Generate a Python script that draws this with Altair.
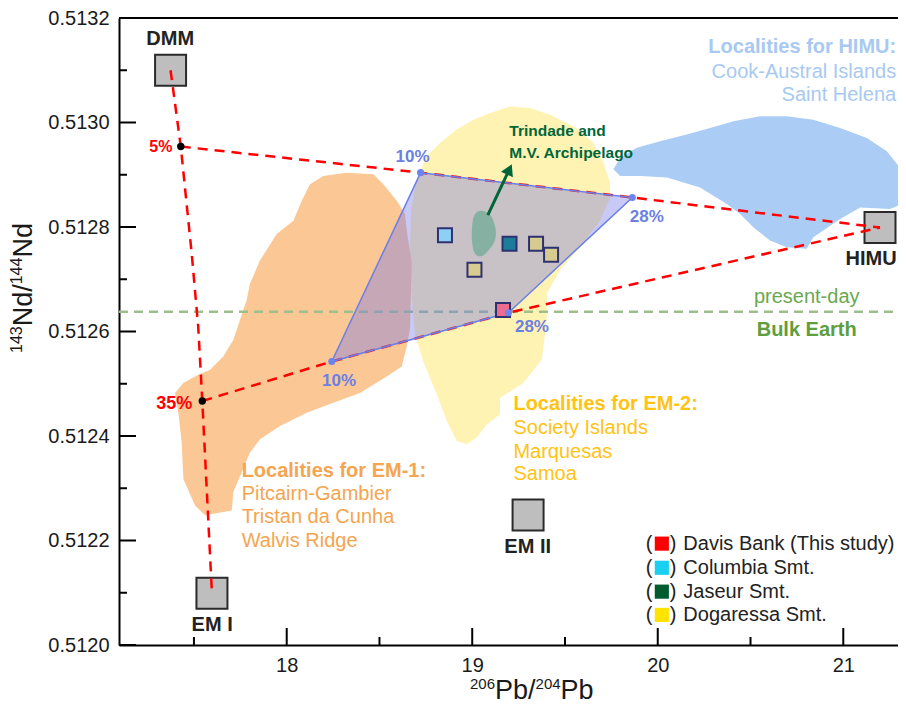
import altair as alt
import pandas as pd

FONT = "Liberation Sans"

# ---------------- axes ----------------
X_DOMAIN = [17.096, 21.295]
Y_DOMAIN = [0.5120, 0.5132]
X_MAJOR = [18, 19, 20, 21]
X_MINOR = [17.5, 18.5, 19.5, 20.5]
Y_MAJOR = [0.5120, 0.5122, 0.5124, 0.5126, 0.5128, 0.5130, 0.5132]
Y_MINOR = [0.5121, 0.5123, 0.5125, 0.5127, 0.5129, 0.5131]
# axis titles as (text, superscript?) pieces
X_TITLE = [("206", True), ("Pb/", False), ("204", True), ("Pb", False)]
Y_TITLE = [("143", True), ("Nd/", False), ("144", True), ("Nd", False)]

# ---------------- fields (outlines) ----------------
em1_x = [18.197, 18.323, 18.467, 18.521, 18.593, 18.638, 18.647, 18.674, 18.665, 18.647,
         18.620, 18.539, 18.395, 18.251, 18.108, 17.964, 17.856, 17.802, 17.757, 17.712,
         17.704, 17.560, 17.506, 17.443, 17.434, 17.416, 17.398, 17.443, 17.523, 17.587,
         17.658, 17.712, 17.748, 17.784, 17.802, 17.856, 17.946, 18.036, 18.081, 18.126]
em1_y = [0.5128977, 0.5129040, 0.5129009, 0.5128819, 0.5128501, 0.5128248, 0.5127931, 0.5127328,
         0.5126067, 0.5125711, 0.5125331, 0.5125141, 0.5124825, 0.5124635, 0.5124445, 0.5124190,
         0.5123937, 0.5123684, 0.5123304, 0.5122929, 0.5122573, 0.5122482, 0.5122668, 0.5123176,
         0.5123874, 0.5124445, 0.5124825, 0.5125015, 0.5125173, 0.5125268, 0.5125521, 0.5125839,
         0.5126219, 0.5126600, 0.5126917, 0.5127360, 0.5127868, 0.5128121, 0.5128501, 0.5128819]

em2_x = [19.096, 19.204, 19.312, 19.420, 19.563, 19.653, 19.707, 19.743, 19.743, 19.689,
         19.581, 19.473, 19.402, 19.402, 19.375, 19.275, 19.150, 19.150, 19.078, 19.024,
         18.970, 18.916, 18.863, 18.809, 18.736, 18.692, 18.675, 18.665, 18.670, 18.697,
         18.755, 18.826, 18.916, 19.006]
em2_y = [0.5130181, 0.5130308, 0.5130276, 0.5130150, 0.5129895, 0.5129610, 0.5129230, 0.5128850,
         0.5128564, 0.5128121, 0.5127613, 0.5127170, 0.5126727, 0.5126219, 0.5125458, 0.5125015,
         0.5124730, 0.5124412, 0.5124222, 0.5123969, 0.5123842, 0.5123905, 0.5124285, 0.5124793,
         0.5125426, 0.5125934, 0.5126600, 0.5127550, 0.5128311, 0.5128882, 0.5129357, 0.5129610,
         0.5129865, 0.5130055]

himu_x = [19.761, 19.797, 19.887, 20.012, 20.156, 20.282, 20.408, 20.551, 20.695, 20.839,
          20.983, 21.127, 21.235, 21.306, 21.360, 21.360, 21.252, 21.091, 20.983, 20.839,
          20.803, 20.695, 20.605, 20.515, 20.444, 20.372, 20.228, 20.049, 19.905, 19.797]
himu_y = [0.5129104, 0.5129325, 0.5129515, 0.5129642, 0.5129770, 0.5129895, 0.5130023, 0.5130118,
          0.5130118, 0.5130055, 0.5129895, 0.5129705, 0.5129452, 0.5129135, 0.5128754, 0.5128501,
          0.5128344, 0.5128374, 0.5128153, 0.5127803, 0.5127583, 0.5127613, 0.5127741, 0.5127994,
          0.5128248, 0.5128439, 0.5128754, 0.5128945, 0.5128977, 0.5128977]

tri_x = [19.042, 19.087, 19.114, 19.128, 19.118, 19.087, 19.051, 19.015, 18.999, 18.999, 19.010]
tri_y = [0.5128311, 0.5128267, 0.5128121, 0.5127898, 0.5127708, 0.5127550, 0.5127442,
         0.5127488, 0.5127708, 0.5127994, 0.5128216]
arrow_x = [19.084, 19.213]
arrow_y = [0.5128229, 0.5129199]

# ---------------- mixing model ----------------
mix_x = [18.722, 19.863, 19.195, 18.243]
mix_y = [0.5129040, 0.5128564, 0.5126358, 0.5125426]
mix_lab = ["10%", "28%", "28%", "10%"]
mix_lab_x = [18.678, 19.941, 19.322, 18.282]
mix_lab_y = [0.5129344, 0.5128184, 0.5126080, 0.5125046]

line_v_x = [17.374, 17.429, 17.488, 17.523, 17.545, 17.597]
line_v_y = [0.5131000, 0.5129540, 0.5127488, 0.5126092, 0.5124670, 0.5120990]
line_top_x = [17.429, 18.722, 19.863, 21.198]
line_top_y = [0.5129540, 0.5129040, 0.5128564, 0.5127990]
line_bot_x = [17.545, 18.243, 19.195, 21.198]
line_bot_y = [0.5124670, 0.5125426, 0.5126358, 0.5127990]

pct_x = [17.429, 17.545]
pct_y = [0.512954, 0.512467]
pct_lab = ["5%", "35%"]
pct_lab_x = [17.322, 17.394]
pct_lab_y = [0.512954, 0.5124603]

# ---------------- end members ----------------
em_names = ["DMM", "EM I", "EM II", "HIMU"]
em_x = [17.374, 17.597, 19.301, 21.198]
em_y = [0.5131, 0.512099, 0.512249, 0.512799]
em_lab_x = [17.372, 17.598, 19.299, 21.150]
em_lab_y = [0.5131601, 0.5120380, 0.5121883, 0.5127379]

BULK_EARTH = 0.512638

# ---------------- samples ----------------
samp_loc = ["Davis Bank", "Columbia", "Jaseur", "Dogaressa", "Dogaressa", "Dogaressa"]
samp_x = [19.166, 18.853, 19.201, 19.344, 19.425, 19.012]
samp_y = [0.512641, 0.512784, 0.512768, 0.512768, 0.512747, 0.512718]
samp_dom = ["Davis Bank", "Columbia", "Jaseur", "Dogaressa"]
samp_col = ["#EE6D8F", "#8ECFF5", "#1E7C9B", "#D8CB90"]

leg_names = ["Davis Bank (This study)", "Columbia Smt.", "Jaseur Smt.", "Dogaressa Smt."]
leg_cols = ["#FF0000", "#1AD0F0", "#005C2E", "#FFE400"]
leg_y = [0.5121940, 0.5121478, 0.5121021, 0.5120576]
leg_open_x, leg_sq_x, leg_close_x, leg_txt_x = 19.953, 20.022, 20.083, 20.138

# ---------------- text blocks ----------------
himu_txt = ["Localities for HIMU:", "Cook-Austral Islands", "Saint Helena"]
himu_txt_x = 21.285
himu_txt_y = [0.5131436, 0.5130974, 0.5130531]
em2_txt = ["Localities for EM-2:", "Society Islands", "Marquesas", "Samoa"]
em2_txt_x = 19.222
em2_txt_y = [0.5124603, 0.5124159, 0.5123695, 0.5123271]
em1_txt = ["Localities for EM-1:", "Pitcairn-Gambier", "Tristan da Cunha", "Walvis Ridge"]
em1_txt_x = 17.757
em1_txt_y = [0.5123323, 0.5122891, 0.5122448, 0.5121991]
trin_txt = ["Trindade and", "M.V. Archipelago"]
trin_txt_x = 19.200
trin_txt_y = [0.5129833, 0.5129409]
be_txt = ["present-day", "Bulk Earth"]
be_txt_x = 20.803
be_txt_y = [0.5126662, 0.5126029]

W, H = 779, 627
TXT = "#1a1a1a"

XS = alt.Scale(domain=X_DOMAIN, nice=False, zero=False)
YS = alt.Scale(domain=Y_DOMAIN, nice=False, zero=False)
XAX = alt.Axis(values=X_MAJOR, format="d", ticks=False, tickSize=0, grid=False,
               domainColor="black", domainWidth=2, labelFont=FONT, labelFontSize=20,
               labelColor=TXT, labelPadding=10, title="")
YAX = alt.Axis(values=Y_MAJOR, format=".4f", ticks=False, tickSize=0, grid=False,
               domainColor="black", domainWidth=2, labelFont=FONT, labelFontSize=20,
               labelColor=TXT, labelPadding=10, labelOverlap=False, title="")


def X(f="x"):
    return alt.X(f"{f}:Q", scale=XS, axis=XAX)


def Y(f="y"):
    return alt.Y(f"{f}:Q", scale=YS, axis=YAX)


def xy(xs, ys, **extra):
    d = {"x": xs, "y": ys, "i": list(range(len(xs)))}
    d.update(extra)
    return pd.DataFrame(d)


def poly(xs, ys, fill, stroke=None, interp="linear-closed", **kw):
    props = dict(fill=fill, interpolate=interp, clip=True)
    if stroke is None:
        props.update(strokeWidth=0, stroke=fill, strokeOpacity=0)
    else:
        props.update(stroke=stroke)
    props.update(kw)
    return alt.Chart(xy(xs, ys)).mark_line(**props).encode(x=X(), y=Y(), order="i:Q")


def dashed(xs, ys, color, dash, width=2.5):
    return alt.Chart(xy(xs, ys)).mark_line(color=color, strokeDash=dash, strokeWidth=width,
                                           clip=True).encode(x=X(), y=Y(), order="i:Q")


def texts(labels, xs, ys, color, size=20, weight="normal", align="left"):
    if not isinstance(xs, list):
        xs = [xs] * len(labels)
    return alt.Chart(xy(xs, ys, t=labels)).mark_text(
        align=align, baseline="middle", font=FONT, fontSize=size, fontWeight=weight,
        color=color).encode(x=X(), y=Y(), text="t:N")


# Arial / Liberation Sans advance widths (em) used to lay out the composite axis titles
AW = {"0": .556, "1": .556, "2": .556, "3": .556, "4": .556, "6": .556,
      "P": .667, "b": .556, "/": .278, "N": .722, "d": .556}


def tw(s, size):
    return sum(AW[c] for c in s) * size


def title_pieces(pieces, main_size, sup_size, start, base_main, base_sup, vertical):
    out = []
    pos = start
    for txt, sup in pieces:
        size = sup_size if sup else main_size
        base = base_sup if sup else base_main
        mk = dict(align="left", baseline="alphabetic", font=FONT, fontSize=size, color=TXT)
        if vertical:
            mk["angle"] = 270
            enc = dict(x=alt.value(base), y=alt.value(pos), text=alt.value(txt))
            pos -= tw(txt, size)
        else:
            enc = dict(x=alt.value(pos), y=alt.value(base), text=alt.value(txt))
            pos += tw(txt, size)
        out.append(alt.Chart(pd.DataFrame({"k": [0]})).mark_text(**mk).encode(**enc))
    return out


layers = []
# fields
layers.append(poly(em2_x, em2_y, "#FEF3B3"))
layers.append(poly(em1_x, em1_y, "#FAC795"))
layers.append(poly(himu_x, himu_y, "#ABCDF5"))

# bulk earth
layers.append(alt.Chart(pd.DataFrame({"y": [BULK_EARTH]})).mark_rule(
    color="#9DC08B", strokeDash=[9, 6], strokeWidth=2.5).encode(y=Y(), x=alt.value(0), x2=alt.value(W)))

# end-member squares
layers.append(alt.Chart(xy(em_x, em_y)).mark_point(
    shape="square", filled=True, fill="#BEBEBE", stroke="#2A2A2A", strokeWidth=2, size=961,
    opacity=1).encode(x=X(), y=Y()))

# mixing lines
layers.append(dashed(line_v_x, line_v_y, "#FF0000", [10, 7]))
layers.append(dashed(line_top_x, line_top_y, "#FF0000", [10, 7]))
layers.append(dashed(line_bot_x, line_bot_y, "#FF0000", [10, 7]))
layers.append(alt.Chart(xy(pct_x, pct_y)).mark_point(
    filled=True, color="black", size=55, opacity=1).encode(x=X(), y=Y()))

# mixing quadrilateral overlay
layers.append(poly(mix_x, mix_y, "#7878E6", stroke="#6B7FE8", strokeWidth=1.5, fillOpacity=0.4))

# Trindade field + arrow
layers.append(poly(tri_x, tri_y, "#86B1A2", interp="cardinal-closed"))
ax0, ax1 = arrow_x
ay0, ay1 = arrow_y
layers.append(alt.Chart(xy([ax0, ax0 + 0.86 * (ax1 - ax0)], [ay0, ay0 + 0.86 * (ay1 - ay0)])).mark_line(
    color="#00663A", strokeWidth=3).encode(x=X(), y=Y(), order="i:Q"))
layers.append(alt.Chart(xy([ax0 + 0.9 * (ax1 - ax0)], [ay0 + 0.9 * (ay1 - ay0)])).mark_point(
    shape="triangle-up", filled=True, color="#00663A", size=170, angle=25, opacity=1).encode(x=X(), y=Y()))

# samples
layers.append(alt.Chart(xy(samp_x, samp_y, loc=samp_loc)).mark_point(
    shape="square", filled=True, stroke="#2E3170", strokeWidth=2, size=196, opacity=1).encode(
    x=X(), y=Y(), fill=alt.Fill("loc:N", scale=alt.Scale(domain=samp_dom, range=samp_col), legend=None)))

# vertices
layers.append(alt.Chart(xy(mix_x, mix_y)).mark_point(
    filled=True, color="#6D83EE", size=50, opacity=1).encode(x=X(), y=Y()))

# labels
layers.append(texts(mix_lab, mix_lab_x, mix_lab_y, "#6C80E4", size=17, weight="bold", align="center"))
layers.append(texts(pct_lab[:1], pct_lab_x[:1], pct_lab_y[:1], "#FF0000", size=16, weight="bold", align="center"))
layers.append(texts(pct_lab[1:], pct_lab_x[1:], pct_lab_y[1:], "#FF0000", size=18, weight="bold", align="center"))
layers.append(texts(em_names, em_lab_x, em_lab_y, "#222222", size=20, weight="bold", align="center"))

layers.append(texts(himu_txt[:1], himu_txt_x, himu_txt_y[:1], "#A7C9F2", weight="bold", align="right"))
layers.append(texts(himu_txt[1:], himu_txt_x, himu_txt_y[1:], "#A7C9F2", align="right"))
layers.append(texts(em2_txt[:1], em2_txt_x, em2_txt_y[:1], "#FFC314", weight="bold"))
layers.append(texts(em2_txt[1:], em2_txt_x, em2_txt_y[1:], "#FFC314"))
layers.append(texts(em1_txt[:1], em1_txt_x, em1_txt_y[:1], "#F5A550", weight="bold"))
layers.append(texts(em1_txt[1:], em1_txt_x, em1_txt_y[1:], "#F5A550"))
layers.append(texts(trin_txt, trin_txt_x, trin_txt_y, "#00663A", size=15.5, weight="bold"))
layers.append(texts(be_txt[:1], be_txt_x, be_txt_y[:1], "#6AA84F", align="center"))
layers.append(texts(be_txt[1:], be_txt_x, be_txt_y[1:], "#5E9E3F", weight="bold", align="center"))

# legend
layers.append(texts(["("] * 4, leg_open_x, leg_y, "#222222", align="center"))
layers.append(texts([")"] * 4, leg_close_x, leg_y, "#222222", align="center"))
layers.append(alt.Chart(xy([leg_sq_x] * 4, leg_y, nm=leg_names)).mark_point(
    shape="square", filled=True, size=200, opacity=1).encode(
    x=X(), y=Y(), fill=alt.Fill("nm:N", scale=alt.Scale(domain=leg_names, range=leg_cols), legend=None)))
layers.append(texts(leg_names, leg_txt_x, leg_y, "#222222"))

# inward ticks and top frame
layers.append(alt.Chart(pd.DataFrame({"y": Y_MAJOR})).mark_rule(color="black", strokeWidth=2).encode(
    y=Y(), x=alt.value(0), x2=alt.value(17)))
layers.append(alt.Chart(pd.DataFrame({"y": Y_MINOR})).mark_rule(color="black", strokeWidth=2).encode(
    y=Y(), x=alt.value(0), x2=alt.value(8)))
layers.append(alt.Chart(pd.DataFrame({"x": X_MAJOR})).mark_rule(color="black", strokeWidth=2).encode(
    x=X(), y=alt.value(H), y2=alt.value(H - 17)))
layers.append(alt.Chart(pd.DataFrame({"x": X_MINOR})).mark_rule(color="black", strokeWidth=2).encode(
    x=X(), y=alt.value(H), y2=alt.value(H - 8)))
layers.append(alt.Chart(pd.DataFrame({"y": [Y_DOMAIN[1]]})).mark_rule(color="black", strokeWidth=2).encode(
    y=Y(), x=alt.value(0), x2=alt.value(W)))

# axis titles with superscript mass numbers
layers += title_pieces(X_TITLE, 27, 15, 351, 681, 671, vertical=False)
layers += title_pieces(Y_TITLE, 27, 16, 335, -87, -97, vertical=True)

chart = alt.layer(*layers).resolve_scale(fill="independent").properties(
    width=W, height=H,
    autosize=alt.AutoSizeParams(type="none"),
    padding={"left": 111, "top": 10, "right": 0, "bottom": 61},
    background="white",
).configure_view(stroke=None)

chart.save("out.html", embed_options={"renderer": "svg", "actions": False})
